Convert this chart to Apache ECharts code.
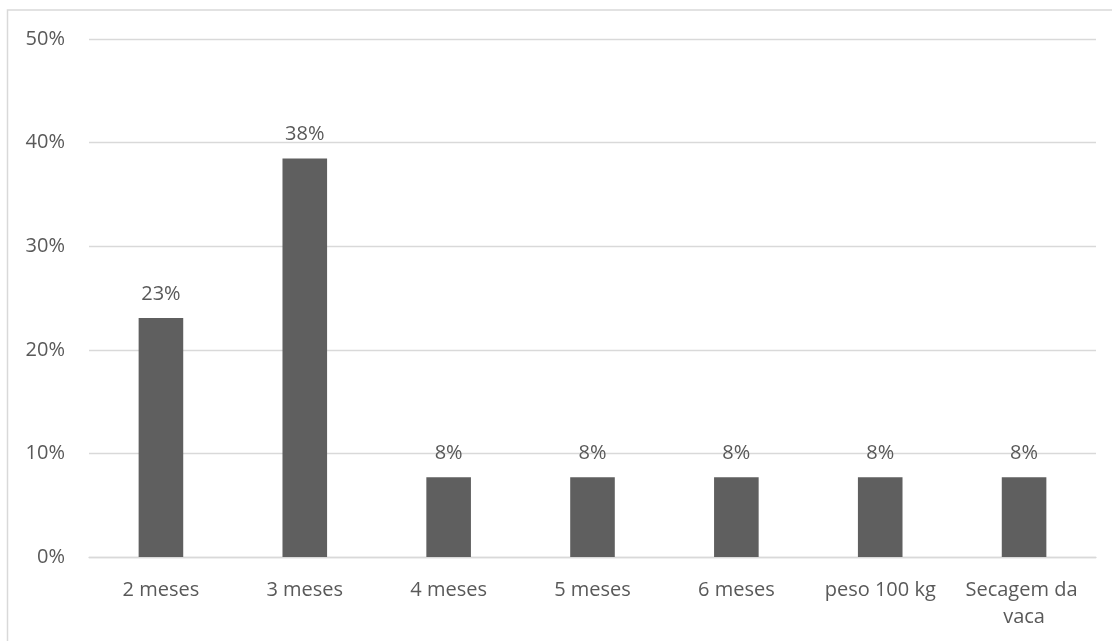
<!DOCTYPE html>
<html>
<head>
<meta charset="utf-8">
<script src="https://cdn.jsdelivr.net/npm/echarts@6/dist/echarts.min.js"></script>
<style>
  html, body { margin: 0; padding: 0; background: #ffffff; }
  #chart { width: 1112px; height: 641px; }
</style>
</head>
<body>
<div id="chart"></div>
<script>
// Categories along the x axis
const categories = ['2 meses', '3 meses', '4 meses', '5 meses', '6 meses', 'peso 100 kg', 'Secagem da vaca'];
// Share of answers per category, in percent
const shares = [23.08, 38.46, 7.69, 7.69, 7.69, 7.69, 7.69];
// Value axis range and step, in percent
const yMin = 0;
const yMax = 50;
const yStep = 10;

const textColor = '#595959';
const lineColor = '#d9d9d9';
const fontFamily = '"Open Sans", "Noto Sans", sans-serif';

const chart = echarts.init(document.getElementById('chart'), null, { renderer: 'canvas' });

chart.setOption({
  animation: false,
  backgroundColor: '#ffffff',
  graphic: [{
    type: 'rect',
    shape: { x: 7.5, y: 10, width: 1200, height: 1000 },
    style: { fill: 'none', stroke: lineColor, lineWidth: 1.5 },
    silent: true
  }],
  grid: { left: 89, right: 16, top: 39, bottom: 84, containLabel: false },
  xAxis: {
    type: 'category',
    data: categories,
    axisLine: { show: true, lineStyle: { color: lineColor, width: 1.3 } },
    axisTick: { show: false },
    axisLabel: {
      color: textColor,
      fontFamily: fontFamily,
      fontSize: 20,
      margin: 20,
      lineHeight: 27,
      width: 130,
      overflow: 'break',
      interval: 0
    }
  },
  yAxis: {
    type: 'value',
    min: yMin,
    max: yMax,
    interval: yStep,
    axisLine: { show: false },
    axisTick: { show: false },
    splitLine: { lineStyle: { color: lineColor, width: 1.3 } },
    axisLabel: {
      color: textColor,
      fontFamily: fontFamily,
      fontSize: 20,
      margin: 24,
      formatter: v => v + '%'
    }
  },
  series: [{
    type: 'bar',
    data: shares,
    barWidth: '31%',
    itemStyle: { color: '#5f5f5f' },
    label: {
      show: true,
      position: 'top',
      distance: 14,
      color: textColor,
      fontFamily: fontFamily,
      fontSize: 20,
      formatter: p => Math.round(p.value) + '%'
    }
  }]
});
</script>
</body>
</html>
